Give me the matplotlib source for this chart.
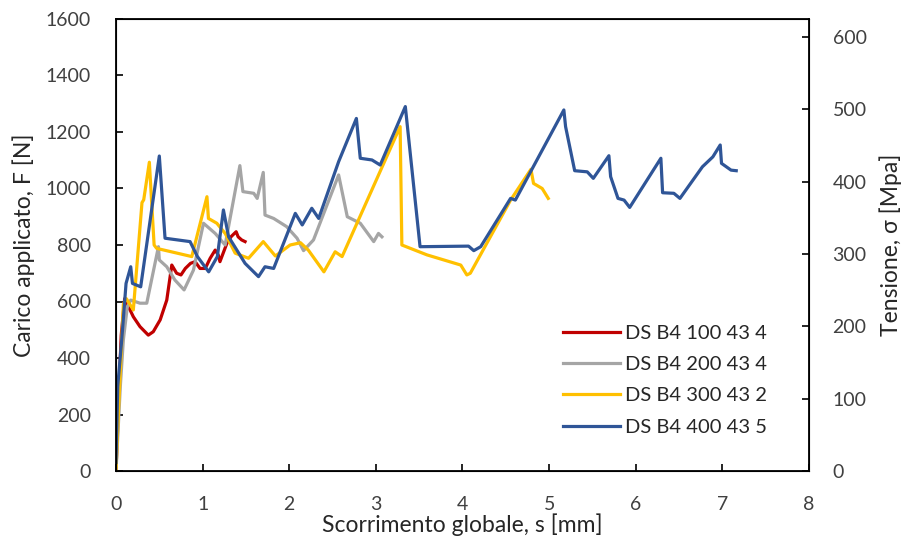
import matplotlib
matplotlib.use("Agg")
import matplotlib.pyplot as plt

plt.rcParams['font.family'] = ['Lato', 'DejaVu Sans']

# --- data (s [mm], F [N]) ---
red_s = [0.0, 0.03, 0.06, 0.10, 0.20, 0.277, 0.373, 0.43, 0.51, 0.586, 0.644, 0.70, 0.75, 0.80, 0.86,
         0.913, 0.97, 1.03, 1.087, 1.145, 1.18, 1.20, 1.28, 1.33, 1.387, 1.41, 1.45, 1.49]
red_F = [0, 250, 480, 610, 546, 511, 481, 493, 535, 605, 729, 700, 694, 717, 735,
         741, 717, 717, 753, 782, 765, 741, 806, 830, 847, 829, 818, 812]

gray_s = [0.0, 0.05, 0.085, 0.13, 0.17, 0.277, 0.355, 0.49, 0.50, 0.586, 0.68, 0.786, 0.894, 1.01,
          1.145, 1.26, 1.43, 1.465, 1.59, 1.63, 1.70, 1.72, 1.82, 1.97, 2.09, 2.165, 2.28, 2.57,
          2.67, 2.82, 2.975, 3.03, 3.07]
gray_F = [0, 300, 464, 580, 605, 594, 594, 794, 747, 723, 676, 641, 711, 877,
          841, 800, 1081, 989, 983, 965, 1057, 906, 894, 865, 824, 780, 818, 1048,
          900, 877, 812, 841, 829]

yellow_s = [0.0, 0.02, 0.06, 0.085, 0.12, 0.2, 0.3, 0.32, 0.385, 0.44, 0.47, 0.875, 1.05, 1.067,
            1.164, 1.26, 1.376, 1.53, 1.70, 1.84, 2.01, 2.13, 2.22, 2.40, 2.53, 2.61, 3.28, 3.30,
            3.59, 3.98, 4.05, 4.09, 4.555, 4.79, 4.82, 4.92, 4.99]
yellow_F = [0, 150, 420, 590, 610, 570, 950, 960, 1093, 800, 788, 759, 971, 894,
            877, 841, 771, 753, 812, 761, 800, 808, 782, 705, 776, 759, 1219, 800,
            765, 729, 694, 700, 959, 1068, 1018, 1000, 965]

blue_s = [0.0, 0.02, 0.066, 0.116, 0.17, 0.19, 0.285, 0.50, 0.566, 0.855, 0.94, 1.07, 1.17, 1.24,
          1.30, 1.49, 1.645, 1.72, 1.82, 2.07, 2.15, 2.26, 2.34, 2.57, 2.775, 2.82, 2.955, 3.05,
          3.34, 3.51, 4.07, 4.13, 4.21, 4.555, 4.61, 5.17, 5.19, 5.295, 5.44, 5.51, 5.69, 5.71,
          5.795, 5.865, 5.93, 6.29, 6.31, 6.44, 6.51, 6.77, 6.89, 6.975, 6.99, 7.10, 7.16]
blue_F = [30, 300, 464, 664, 723, 664, 652, 1115, 824, 812, 759, 705, 759, 924,
          829, 735, 688, 723, 717, 912, 871, 930, 894, 1095, 1248, 1107, 1101, 1083,
          1290, 794, 796, 780, 794, 965, 959, 1278, 1219, 1063, 1059, 1036, 1116, 1042,
          965, 959, 933, 1107, 985, 983, 965, 1077, 1112, 1154, 1089, 1065, 1063]

labels = ["DS B4 100 43 4", "DS B4 200 43 4", "DS B4 300 43 2", "DS B4 400 43 5"]
colors = ["#C00000", "#A5A5A5", "#FFC000", "#2F5597"]

x_ticks = [0, 1, 2, 3, 4, 5, 6, 7, 8]
yl_ticks = [0, 200, 400, 600, 800, 1000, 1200, 1400, 1600]
yr_ticks = [0, 100, 200, 300, 400, 500, 600]

fig = plt.figure(figsize=(9.04, 5.47), dpi=100)
ax = fig.add_axes([116/904, 1-471/547, (809-116)/904, (471-19)/547])

series = [(red_s, red_F), (gray_s, gray_F), (yellow_s, yellow_F), (blue_s, blue_F)]
for (s, F), lab, c in zip(series, labels, colors):
    ax.plot(s, F, color=c, lw=2.3, label=lab, solid_joinstyle='round')

ax.set_xlim(0, 8)
ax.set_ylim(0, 1600)
ax.set_xticks(x_ticks)
ax.set_yticks(yl_ticks)
ax.tick_params(axis='y', direction='in', length=5, width=1.2, labelsize=14,
               labelcolor='#404040', pad=18)
ax.tick_params(axis='x', direction='in', length=5, width=1.2, labelsize=14,
               labelcolor='#404040', pad=18)
for sp in ax.spines.values():
    sp.set_linewidth(1.3)
ax.set_xlabel("Scorrimento globale, s [mm]", fontsize=16.5, color='#262626', labelpad=0)
ax.set_ylabel("Carico applicato, F [N]", fontsize=16.5, color='#262626', labelpad=8)

ax2 = ax.twinx()
ax2.set_ylim(0, 1600 / 2.56)
ax2.set_yticks(yr_ticks)
ax2.tick_params(direction='in', length=5, width=1.2, labelsize=14, labelcolor='#404040', pad=17)
ax2.set_ylabel("Tensione, σ [Mpa]", fontsize=16.5, color='#262626', labelpad=9)

leg = ax.legend(loc='upper left', bbox_to_anchor=(0.634, 0.341), frameon=False, fontsize=14.5,
                handlelength=2.8, handletextpad=0.25, labelspacing=0.7, borderaxespad=0)
for t in leg.get_texts():
    t.set_color('#262626')

fig.savefig("out.png", dpi=100)
